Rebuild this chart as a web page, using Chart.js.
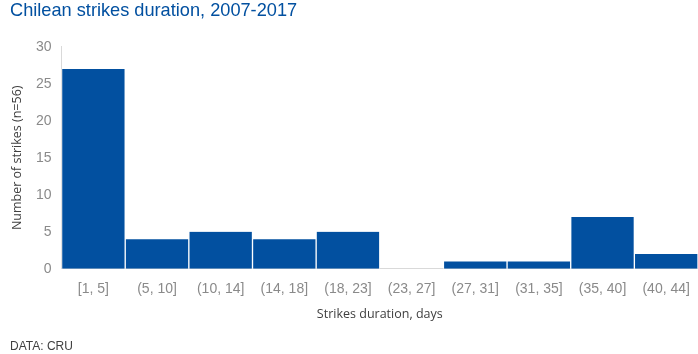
<!DOCTYPE html>
<html>
<head>
<meta charset="utf-8">
<script src="https://cdn.jsdelivr.net/npm/chart.js@4/dist/chart.umd.min.js"></script>
<style>
  html, body { margin: 0; padding: 0; background: #fff; }
  #wrap { width: 698px; height: 354px; position: relative; }
</style>
</head>
<body>
<div id="wrap"><canvas id="chart"></canvas></div>
<script>
const categories = ['[1, 5]', '(5, 10]', '(10, 14]', '(14, 18]', '(18, 23]', '(23, 27]', '(27, 31]', '(31, 35]', '(35, 40]', '(40, 44]'];
const strikes = [27, 4, 5, 4, 5, 0, 1, 1, 7, 2];
const yTicks = [0, 5, 10, 15, 20, 25, 30];

const blue = '#0250a0';
const tickGray = '#8a8a8a';

new Chart(document.getElementById('chart'), {
  type: 'bar',
  data: {
    labels: categories,
    datasets: [{
      label: 'Number of strikes',
      data: strikes,
      backgroundColor: blue,
      borderColor: '#ffffff',
      borderWidth: { left: 1, right: 1, top: 0, bottom: 0 },
      categoryPercentage: 1,
      barPercentage: 1
    }]
  },
  options: {
    responsive: true,
    maintainAspectRatio: false,
    animation: false,
    layout: { padding: { left: 10, right: 0, top: 0, bottom: 0 } },
    scales: {
      y: {
        min: 0,
        max: 30,
        afterBuildTicks: axis => { axis.ticks = yTicks.map(v => ({ value: v })); },
        grid: { display: false, drawTicks: false },
        border: { display: true, color: '#d9d9d9' },
        ticks: { color: tickGray, font: { family: 'Arial, "Liberation Sans"', size: 14 }, padding: 10 },
        title: {
          display: true,
          text: 'Number of strikes (n=56)',
          color: '#404040',
          font: { family: '"Open Sans", "Noto Sans"', size: 12.5 },
          padding: { top: 0, bottom: 1 }
        }
      },
      x: {
        afterFit: scale => { scale.paddingRight = 0; },
        grid: { display: false, drawTicks: false },
        border: { display: true, color: '#d9d9d9' },
        ticks: { color: tickGray, font: { family: 'Arial, "Liberation Sans"', size: 14 }, padding: 12, maxRotation: 0 },
        title: {
          display: true,
          text: 'Strikes duration, days',
          color: '#404040',
          font: { family: '"Open Sans", "Noto Sans"', size: 12.5 },
          padding: { top: -3, bottom: 0 }
        }
      }
    },
    plugins: {
      legend: { display: false },
      tooltip: { enabled: false },
      title: {
        display: true,
        text: 'Chilean strikes duration, 2007-2017',
        align: 'start',
        color: blue,
        font: { family: 'Arial, "Liberation Sans"', size: 18.2, weight: 'normal' },
        padding: { top: 0, bottom: 25 }
      },
      subtitle: {
        display: true,
        position: 'bottom',
        align: 'start',
        text: 'DATA: CRU',
        color: '#404040',
        font: { family: 'Arial, "Liberation Sans"', size: 12 },
        padding: { top: 18, bottom: 0 }
      }
    }
  }
});
</script>
</body>
</html>
